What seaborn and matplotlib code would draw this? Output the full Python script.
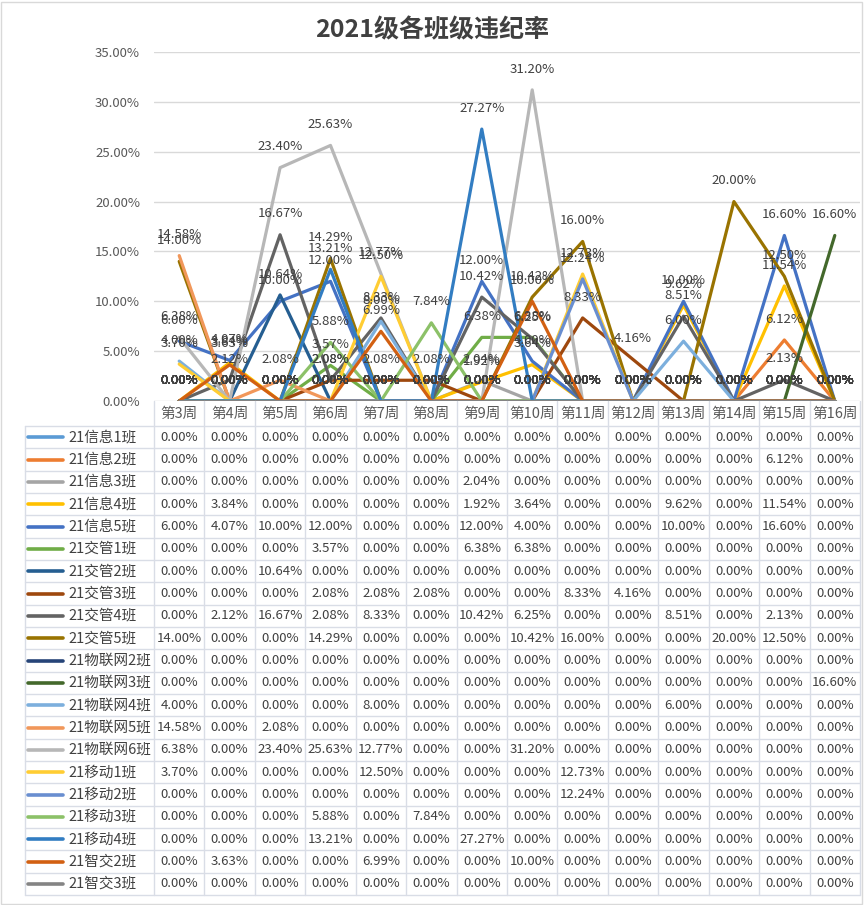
import numpy as np
import pandas as pd
import matplotlib
matplotlib.use("Agg")
import matplotlib.pyplot as plt
from matplotlib.ticker import FuncFormatter
from matplotlib.patches import Rectangle
import seaborn as sns

weeks = ["第3周", "第4周", "第5周", "第6周", "第7周", "第8周", "第9周", "第10周",
         "第11周", "第12周", "第13周", "第14周", "第15周", "第16周"]

classes = ["21信息1班", "21信息2班", "21信息3班", "21信息4班", "21信息5班",
           "21交管1班", "21交管2班", "21交管3班", "21交管4班", "21交管5班",
           "21物联网2班", "21物联网3班", "21物联网4班", "21物联网5班", "21物联网6班",
           "21移动1班", "21移动2班", "21移动3班", "21移动4班", "21智交2班", "21智交3班"]

xinxi1 = [0, 0, 0, 0, 0, 0, 0, 0, 0, 0, 0, 0, 0, 0]
xinxi2 = [0, 0, 0, 0, 0, 0, 0, 0, 0, 0, 0, 0, 6.12, 0]
xinxi3 = [0, 0, 0, 0, 0, 0, 2.04, 0, 0, 0, 0, 0, 0, 0]
xinxi4 = [0, 3.84, 0, 0, 0, 0, 1.92, 3.64, 0, 0, 9.62, 0, 11.54, 0]
xinxi5 = [6.00, 4.07, 10.00, 12.00, 0, 0, 12.00, 4.00, 0, 0, 10.00, 0, 16.60, 0]
jiaoguan1 = [0, 0, 0, 3.57, 0, 0, 6.38, 6.38, 0, 0, 0, 0, 0, 0]
jiaoguan2 = [0, 0, 10.64, 0, 0, 0, 0, 0, 0, 0, 0, 0, 0, 0]
jiaoguan3 = [0, 0, 0, 2.08, 2.08, 2.08, 0, 0, 8.33, 4.16, 0, 0, 0, 0]
jiaoguan4 = [0, 2.12, 16.67, 2.08, 8.33, 0, 10.42, 6.25, 0, 0, 8.51, 0, 2.13, 0]
jiaoguan5 = [14.00, 0, 0, 14.29, 0, 0, 0, 10.42, 16.00, 0, 0, 20.00, 12.50, 0]
wulian2 = [0, 0, 0, 0, 0, 0, 0, 0, 0, 0, 0, 0, 0, 0]
wulian3 = [0, 0, 0, 0, 0, 0, 0, 0, 0, 0, 0, 0, 0, 16.60]
wulian4 = [4.00, 0, 0, 0, 8.00, 0, 0, 0, 0, 0, 6.00, 0, 0, 0]
wulian5 = [14.58, 0, 2.08, 0, 0, 0, 0, 0, 0, 0, 0, 0, 0, 0]
wulian6 = [6.38, 0, 23.40, 25.63, 12.77, 0, 0, 31.20, 0, 0, 0, 0, 0, 0]
yidong1 = [3.70, 0, 0, 0, 12.50, 0, 0, 0, 12.73, 0, 0, 0, 0, 0]
yidong2 = [0, 0, 0, 0, 0, 0, 0, 0, 12.24, 0, 0, 0, 0, 0]
yidong3 = [0, 0, 0, 5.88, 0, 7.84, 0, 0, 0, 0, 0, 0, 0, 0]
yidong4 = [0, 0, 0, 13.21, 0, 0, 27.27, 0, 0, 0, 0, 0, 0, 0]
zhijiao2 = [0, 3.63, 0, 0, 6.99, 0, 0, 10.00, 0, 0, 0, 0, 0, 0]
zhijiao3 = [0, 0, 0, 0, 0, 0, 0, 0, 0, 0, 0, 0, 0, 0]

series = [xinxi1, xinxi2, xinxi3, xinxi4, xinxi5, jiaoguan1, jiaoguan2, jiaoguan3,
          jiaoguan4, jiaoguan5, wulian2, wulian3, wulian4, wulian5, wulian6,
          yidong1, yidong2, yidong3, yidong4, zhijiao2, zhijiao3]

colors = ["#5B9BD5", "#ED7D31", "#A5A5A5", "#FFC000", "#4472C4", "#70AD47",
          "#255E91", "#9E480E", "#636363", "#997300", "#264478", "#43682B",
          "#7CAFDD", "#F1975A", "#B7B7B7", "#FFCD33", "#698ED0", "#8CC168",
          "#327DC2", "#D26012", "#848484"]

rows = []
for c, vals in zip(classes, series):
    for w, v in zip(weeks, vals):
        rows.append({"week": w, "cls": c, "rate": v})
df = pd.DataFrame(rows)

sns.set_theme(style="white")
plt.rcParams["font.family"] = ["Noto Sans CJK SC", "DejaVu Sans"]

W, H = 864, 905
fig = plt.figure(figsize=(W / 100, H / 100), dpi=100)
fig.patch.set_facecolor("white")

left, right, top, bottom = 154, 860, 52, 401
ax = fig.add_axes([left / W, 1 - bottom / H, (right - left) / W, (bottom - top) / H])

sns.lineplot(data=df, x="week", y="rate", hue="cls", hue_order=classes,
             palette=colors, sort=False, estimator=None, linewidth=2.3,
             legend=False, ax=ax)

ax.set_xlim(-0.5, len(weeks) - 0.5)
ax.set_ylim(0, 35)
ax.set_yticks(np.arange(0, 35.1, 5))
ax.yaxis.set_major_formatter(FuncFormatter(lambda v, p: f"{v:.2f}%"))
ax.tick_params(axis="y", length=0, pad=10, labelsize=9.5, labelcolor="#595959")
ax.set_xticks([])
ax.set_xlabel("")
ax.set_ylabel("")
ax.grid(axis="y", color="#D9D9D9", linewidth=1)
ax.set_axisbelow(True)
for s in ax.spines.values():
    s.set_visible(False)

for c, vals in zip(classes, series):
    for i, v in enumerate(vals):
        ax.annotate(f"{v:.2f}%", (i, v), xytext=(0, 15), textcoords="offset points",
                    ha="center", va="center", fontsize=9.5, color="#404040",
                    annotation_clip=False, zorder=5)

# title
fig.text(0.5, 1 - 30 / H, "2021级各班级违纪率", ha="center", va="center",
         fontsize=18, fontweight="bold", color="#404040")

# data table
tax = fig.add_axes([0, 0, 1, 1])
tax.set_xlim(0, W)
tax.set_ylim(H, 0)
tax.axis("off")
tax.patch.set_alpha(0)

grid_c = "#D9DDE6"
ncol = len(weeks)
cw = (right - left) / ncol
head_top, head_bot = bottom, 426
row_h = (895 - head_bot) / len(classes)
tab_left = 25
tab_bot = head_bot + row_h * len(classes)

# vertical lines
for k in range(ncol + 1):
    x = left + k * cw
    tax.plot([x, x], [head_top, tab_bot], color=grid_c, lw=1)
tax.plot([tab_left, tab_left], [head_bot, tab_bot], color=grid_c, lw=1)
# horizontal lines
for r in range(len(classes) + 1):
    y = head_bot + r * row_h
    tax.plot([tab_left, right], [y, y], color=grid_c, lw=1)

for k, w in enumerate(weeks):
    tax.text(left + (k + 0.5) * cw, (head_top + head_bot) / 2, w, ha="center",
             va="center", fontsize=10.5, color="#595959")

for r, (c, vals, col) in enumerate(zip(classes, series, colors)):
    yc = head_bot + (r + 0.5) * row_h
    tax.plot([28, 63], [yc, yc], color=col, lw=2.6, solid_capstyle="round")
    tax.text(68, yc, c, ha="left", va="center", fontsize=10.5, color="#404040")
    for k, v in enumerate(vals):
        tax.text(left + (k + 0.5) * cw, yc, f"{v:.2f}%", ha="center", va="center",
                 fontsize=9.5, color="#404040")

fig.add_artist(Rectangle((1 / W, 1 / H), 1 - 3 / W, 1 - 3 / H, transform=fig.transFigure,
                         fill=False, edgecolor="#D9D9D9", lw=1))

fig.savefig("out.png", dpi=100)
